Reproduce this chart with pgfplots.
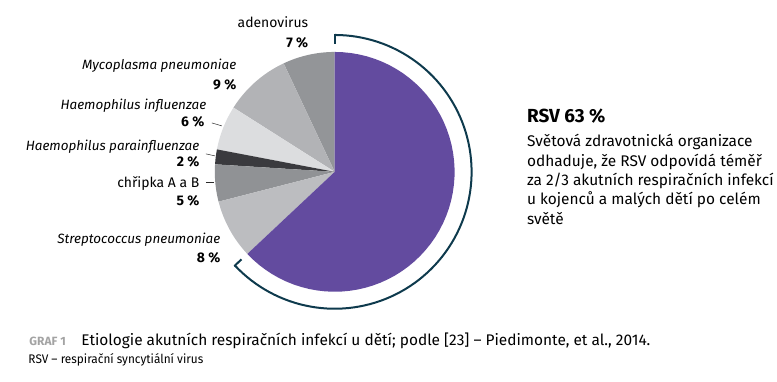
\documentclass[border=0pt]{standalone}
\usepackage{pgfplots}
\usepackage{pgfplotstable}
\pgfplotsset{compat=1.18}
\usepackage{fontspec}
\setmainfont{Fira Sans}
\definecolor{slice0}{HTML}{939598}
\definecolor{slice1}{HTML}{B2B3B6}
\definecolor{slice2}{HTML}{DCDDDF}
\definecolor{slice3}{HTML}{3A3A3E}
\definecolor{slice4}{HTML}{909295}
\definecolor{slice5}{HTML}{BCBDC0}
\definecolor{slice6}{HTML}{634B9F}
\definecolor{bracket}{HTML}{0E3A4D}
\definecolor{txt}{HTML}{2A2A2A}
\definecolor{graf}{HTML}{A3A3A3}

\pgfplotstableread{
name value
adenovirus 7
mycoplasma 9
hinfluenzae 6
hparainfluenzae 2
chripka 5
streptococcus 8
RSV 63
}\pietable

\begin{document}
\begin{tikzpicture}
\begin{axis}[
  scale only axis, width=777bp, height=382bp,
  xmin=0, xmax=777, ymin=0, ymax=382,
  hide axis, clip=false,
  every node/.style={text=txt, inner sep=0pt},
]
\path (axis cs:0,0) rectangle (axis cs:777,382);
\pgfmathsetmacro\angstart{90}
\pgfplotsforeachungrouped \i in {0,...,6} {
  \pgfplotstablegetelem{\i}{value}\of\pietable
  \pgfmathsetmacro\angend{\angstart+3.6*\pgfplotsretval}
  \edef\temp{\noexpand\addplot[fill=slice\i, draw=none, domain=\angstart:\angend, samples=60] ({335+120*cos(x)},{210+120*sin(x)}) -- (axis cs:335,210) -- cycle;}
  \temp
  \global\let\angstart\angend
}
% bracket around RSV
\addplot[draw=bracket, line width=2bp, domain=-136.8:90, samples=100] ({335+137*cos(x)},{210+137*sin(x)});
\addplot[draw=bracket, line width=2bp] coordinates {(335,348) (335,338)};
\addplot[draw=bracket, line width=2bp] coordinates {(234.5,115.7) (241.7,122.4)};
% leader lines
\addplot[draw=txt, line width=0.5bp] coordinates {(212,259) (222,256)};
\addplot[draw=txt, line width=0.5bp] coordinates {(206,228) (215,226)};
\addplot[draw=txt, line width=0.5bp] coordinates {(206,200) (214,200)};

% labels
\node[anchor=base east, font=\fontsize{14}{16}\selectfont] at (axis cs:312,354) {adenovirus};
\node[anchor=base east, font=\fontsize{14}{16}\selectfont\bfseries] at (axis cs:312,334) {7 \%};
\node[anchor=base east, font=\fontsize{13.5}{15}\selectfont\itshape] at (axis cs:240,312) {Mycoplasma pneumoniae};
\node[anchor=base east, font=\fontsize{14}{16}\selectfont\bfseries] at (axis cs:240,292) {9 \%};
\node[anchor=base east, font=\fontsize{13.5}{15}\selectfont\itshape] at (axis cs:210,272) {Haemophilus influenzae};
\node[anchor=base east, font=\fontsize{14}{16}\selectfont\bfseries] at (axis cs:208,255) {6 \%};
\node[anchor=base east, font=\fontsize{13.5}{15}\selectfont\itshape] at (axis cs:203,231) {Haemophilus parainfluenzae};
\node[anchor=base east, font=\fontsize{14}{16}\selectfont\bfseries] at (axis cs:203,215) {2 \%};
\node[anchor=base east, font=\fontsize{14}{16}\selectfont] at (axis cs:203,194) {chřipka A a B};
\node[anchor=base east, font=\fontsize{14}{16}\selectfont\bfseries] at (axis cs:203,176) {5 \%};
\node[anchor=base east, font=\fontsize{13.5}{15}\selectfont\itshape] at (axis cs:224,138) {Streptococcus pneumoniae};
\node[anchor=base east, font=\fontsize{14}{16}\selectfont\bfseries] at (axis cs:224,119) {8 \%};

% right block
\node[anchor=base west, font=\fontsize{19}{21}\selectfont\bfseries] at (axis cs:524,259) {RSV 63 \%};
\node[anchor=base west, font=\fontsize{15.5}{17}\selectfont] at (axis cs:524,235) {Světová zdravotnická organizace};
\node[anchor=base west, font=\fontsize{15.5}{17}\selectfont] at (axis cs:524,215.7) {odhaduje, že RSV odpovídá téměř};
\node[anchor=base west, font=\fontsize{15.5}{17}\selectfont] at (axis cs:524,196.4) {za 2/3 akutních respiračních infekcí};
\node[anchor=base west, font=\fontsize{15.5}{17}\selectfont] at (axis cs:524,177.1) {u kojenců a malých dětí po celém};
\node[anchor=base west, font=\fontsize{15.5}{17}\selectfont] at (axis cs:524,157.8) {světě};

% caption
\node[anchor=base west, font=\fontsize{12}{14}\selectfont\bfseries, text=graf] at (axis cs:26,36) {GRAF 1};
\node[anchor=base west, font=\fontsize{15.5}{17}\selectfont] at (axis cs:78,36) {Etiologie akutních respiračních infekcí u dětí; podle [23] – Piedimonte, et al., 2014.};
\node[anchor=base west, font=\fontsize{12.5}{14}\selectfont] at (axis cs:25,18) {\scalebox{0.95}[1]{RSV – respirační syncytiální virus}};
\end{axis}
\end{tikzpicture}
\end{document}
